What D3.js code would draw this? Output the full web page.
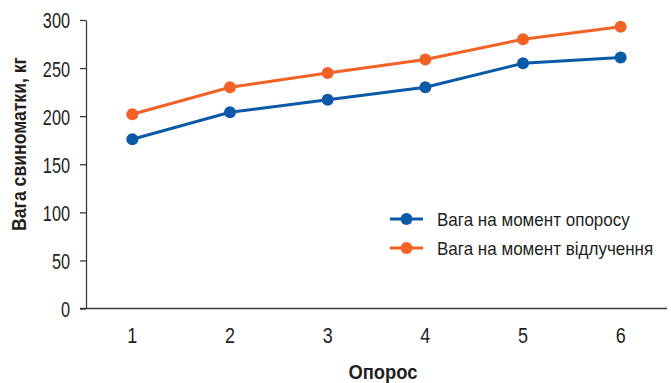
<!DOCTYPE html>
<html>
<head>
<meta charset="utf-8">
<script src="https://cdn.jsdelivr.net/npm/d3@7/dist/d3.min.js"></script>
<style>
  html, body { margin: 0; padding: 0; background: #fff; }
  svg { display: block; }
  text { font-family: "Liberation Sans Narrow", "Arial Narrow", "Liberation Sans", Arial, sans-serif; fill: #231f20; }
</style>
</head>
<body>
<svg id="chart" width="671" height="383"></svg>
<script>
// Farrowing number (x) and sow weight, kg
const farrowings = [1, 2, 3, 4, 5, 6];
const weightAtFarrowing = [176, 204, 217, 230, 255, 261];
const weightAtWeaning = [202, 230, 245, 259, 280, 293];
const yTicks = [0, 50, 100, 150, 200, 250, 300];

const seriesNames = ["Вага на момент опоросу", "Вага на момент відлучення"];
const seriesColors = ["#0a5aa8", "#f26227"];
const series = [weightAtFarrowing, weightAtWeaning];

const svg = d3.select("#chart");
const plotLeft = 86, plotRight = 667, plotTop = 20, plotBottom = 308.5;

const x = d3.scaleBand().domain(farrowings).range([83.5, 669.5]);
const y = d3.scaleLinear().domain([0, 300]).range([plotBottom, plotTop]);

const axisColor = "#3a3a3a";

// Squeeze text horizontally to get a condensed face from the regular one
function condense(sel, factor) {
  sel.each(function () {
    const w = this.getComputedTextLength();
    d3.select(this).attr("textLength", w * factor).attr("lengthAdjust", "spacingAndGlyphs");
  });
}

// Y axis
const yAxis = svg.append("g")
  .attr("transform", `translate(${plotLeft},0)`)
  .call(d3.axisLeft(y).tickValues(yTicks).tickSize(6).tickSizeOuter(0).tickPadding(10));
yAxis.select(".domain").attr("stroke", axisColor).attr("stroke-width", 1.3);
yAxis.selectAll(".tick line").attr("stroke", axisColor).attr("stroke-width", 1.3);
yAxis.selectAll(".tick text").attr("font-size", 22).attr("fill", "#231f20")
  .attr("dy", "0.36em")
  .style("font-family", '"Liberation Sans", Arial, sans-serif')
  .call(condense, 0.74);

// X axis (baseline only, labels under each category)
svg.append("line")
  .attr("x1", plotLeft - 6).attr("x2", plotRight)
  .attr("y1", plotBottom).attr("y2", plotBottom)
  .attr("stroke", axisColor).attr("stroke-width", 1.3);
const xAxis = svg.append("g")
  .attr("transform", `translate(0,${plotBottom})`)
  .call(d3.axisBottom(x).tickSize(0).tickPadding(19));
xAxis.select(".domain").remove();
xAxis.selectAll(".tick text").attr("font-size", 22.5).attr("fill", "#231f20")
  .style("font-family", '"Liberation Sans", Arial, sans-serif')
  .call(condense, 0.8);

// Axis titles
svg.append("text")
  .attr("transform", `translate(26,144) rotate(-90)`)
  .attr("text-anchor", "middle")
  .attr("font-size", 20).attr("font-weight", "bold")
  .text("Вага свиноматки, кг")
  .call(condense, 0.88);
svg.append("text")
  .attr("x", 383).attr("y", 379)
  .attr("text-anchor", "middle")
  .attr("font-size", 20).attr("font-weight", "bold")
  .text("Опорос")
  .call(condense, 0.92);

// Lines and markers
const cx = d => x(d) + x.bandwidth() / 2;
const line = d3.line().x((d, i) => cx(farrowings[i])).y(d => y(d));

series.forEach((vals, s) => {
  const g = svg.append("g");
  g.append("path")
    .datum(vals)
    .attr("d", line)
    .attr("fill", "none")
    .attr("stroke", seriesColors[s])
    .attr("stroke-width", 3);
  g.selectAll("circle")
    .data(vals)
    .join("circle")
    .attr("cx", (d, i) => cx(farrowings[i]))
    .attr("cy", d => y(d))
    .attr("r", 6)
    .attr("fill", seriesColors[s]);
});

// Legend
const legend = svg.append("g").attr("transform", "translate(390,219)");
seriesNames.forEach((name, i) => {
  const row = legend.append("g").attr("transform", `translate(0,${i * 29})`);
  row.append("line").attr("x1", 0).attr("x2", 33).attr("y1", 0).attr("y2", 0)
    .attr("stroke", seriesColors[i]).attr("stroke-width", 3);
  row.append("circle").attr("cx", 16.5).attr("cy", 0).attr("r", 6).attr("fill", seriesColors[i]);
  row.append("text").attr("x", 47).attr("y", 0).attr("dy", "0.36em")
    .attr("font-size", 18.5).text(name)
    .call(condense, 0.92);
});
</script>
</body>
</html>
